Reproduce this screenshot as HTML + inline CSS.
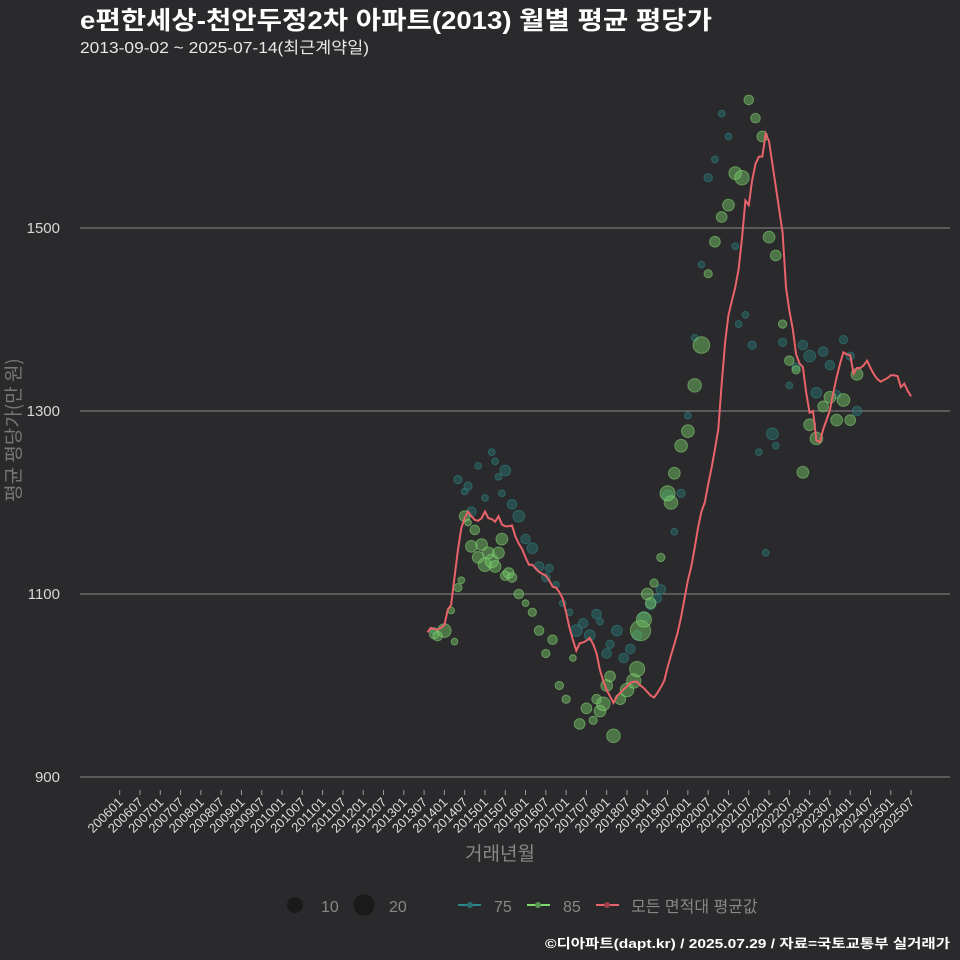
<!DOCTYPE html>
<html><head><meta charset="utf-8">
<style>
html,body{margin:0;padding:0;background:#2a292b;}
svg{display:block;font-family:"Liberation Sans","Noto Sans CJK KR",sans-serif;}
</style></head>
<body>
<svg id="chart" width="960" height="960" viewBox="0 0 960 960" xmlns="http://www.w3.org/2000/svg">
<rect width="960" height="960" fill="#2a292b"/>
<text x="80" y="29" font-size="25" font-weight="bold" fill="#ffffff" textLength="632" lengthAdjust="spacingAndGlyphs">e편한세상-천안두정2차 아파트(2013) 월별 평균 평당가</text>
<text x="80" y="53" font-size="16" fill="#e8e8e8" textLength="289" lengthAdjust="spacingAndGlyphs">2013-09-02 ~ 2025-07-14(최근계약일)</text>
<g id="grid"></g>
<g id="yticks"></g>
<g id="xticks"></g>
<text transform="translate(20,430) rotate(-90)" text-anchor="middle" font-size="19" fill="#777" style="font-family:'Noto Sans CJK KR',sans-serif">평균 평당가(만 원)</text>
<text x="500" y="860" text-anchor="middle" font-size="19" fill="#888">거래년월</text>
<g id="bubbles75"></g>
<g id="bubbles85"></g>
<path id="avgline" fill="none" stroke="#e8636a" stroke-width="2"/>
<g>
<circle cx="295" cy="905" r="8" fill="#1a1a1a"/>
<text x="321" y="912" font-size="16" fill="#888">10</text>
<circle cx="364" cy="905" r="10.5" fill="#1a1a1a"/>
<text x="389" y="912" font-size="16" fill="#888">20</text>
<line x1="458" y1="905" x2="481" y2="905" stroke="#2a8a8a" stroke-width="2"/>
<circle cx="470" cy="905" r="3" fill="#2a7070"/>
<text x="494" y="912" font-size="16" fill="#888">75</text>
<line x1="527" y1="905" x2="550" y2="905" stroke="#7ed86e" stroke-width="2"/>
<circle cx="538" cy="905" r="3" fill="#5a9a50"/>
<text x="563" y="912" font-size="16" fill="#888">85</text>
<line x1="596" y1="905" x2="619" y2="905" stroke="#e8636a" stroke-width="2"/>
<circle cx="607" cy="905" r="3" fill="#a04048"/>
<text x="631" y="912" font-size="16" fill="#888">모든 면적대 평균값</text>
</g>
<text x="950" y="948" text-anchor="end" font-size="13" font-weight="bold" fill="#ffffff" textLength="405" lengthAdjust="spacingAndGlyphs">©디아파트(dapt.kr) / 2025.07.29 / 자료=국토교통부 실거래가</text>
</svg>
<script>
const yTicks = [900, 1100, 1300, 1500];
const xTickLabels = [];
for (let y = 2006; y <= 2025; y++) { xTickLabels.push(y + "01"); xTickLabels.push(y + "07"); }
const avgStart = 91;
const avgValues = [1058,1063,1062,1061,1063,1066,1083,1088,1118,1148,1172,1183,1190,1185,1181,1180,1183,1190,1183,1182,1179,1185,1176,1174,1174,1175,1163,1155,1149,1140,1132,1132,1128,1124,1122,1120,1115,1108,1107,1102,1095,1080,1063,1050,1038,1046,1047,1049,1052,1045,1035,1017,1005,995,988,981,988,992,996,999,1003,1004,1004,1000,997,993,989,987,992,998,1005,1020,1033,1045,1058,1075,1095,1115,1130,1150,1172,1190,1200,1220,1238,1258,1280,1330,1375,1405,1420,1435,1455,1489,1530,1525,1552,1570,1578,1578,1603,1595,1570,1545,1520,1495,1435,1410,1390,1362,1352,1348,1320,1298,1300,1268,1266,1280,1290,1301,1320,1337,1352,1364,1362,1361,1341,1347,1347,1350,1355,1347,1340,1335,1332,1334,1336,1339,1339,1338,1326,1330,1322,1316];
const months75 = [93,100,102,103,104,106,108,110,111,112,113,114,116,118,120,122,124,126,127,129,131,133,135,137,139,141,142,144,145,147,149,151,153,155,157,159,160,162,164,166,168,170,172,174,176,178,180,182,183,185,187,189,191,193,194,196,198,200,202,204,206,208,210,212,214,216,218];
const values75 = [1060,1225,1212,1218,1190,1240,1205,1255,1245,1228,1210,1235,1198,1185,1160,1150,1130,1118,1128,1110,1090,1080,1060,1068,1055,1078,1070,1035,1045,1060,1030,1040,1055,1075,1088,1095,1105,1208,1168,1210,1295,1380,1460,1555,1575,1625,1600,1480,1395,1405,1372,1255,1145,1275,1262,1375,1328,1348,1372,1360,1320,1365,1350,1318,1378,1360,1300];
const counts75 = [2,3,2,3,4,2,2,2,2,2,2,5,4,6,4,5,4,3,3,2,2,2,6,4,5,4,2,4,3,5,4,4,4,5,4,3,4,5,2,3,2,2,2,3,2,2,2,2,2,2,3,2,2,6,2,3,2,3,4,6,5,4,4,3,3,3,4];
const months85 = [93,94,96,98,99,100,101,102,103,104,105,106,107,108,109,110,111,112,113,114,115,116,118,120,122,124,126,128,130,132,134,136,138,140,141,142,143,144,145,146,148,150,152,153,154,155,156,157,158,160,162,163,164,166,168,170,172,174,176,178,180,182,184,186,188,190,192,194,196,198,200,202,204,206,208,210,212,214,216,218];
const values85 = [1056,1054,1060,1082,1048,1107,1115,1185,1178,1152,1170,1140,1154,1132,1145,1136,1130,1145,1160,1120,1123,1118,1100,1090,1080,1060,1035,1050,1000,985,1030,958,975,962,985,972,980,1000,1010,945,985,995,1005,1018,1060,1072,1100,1090,1112,1140,1210,1200,1232,1262,1278,1328,1372,1450,1485,1512,1525,1560,1555,1640,1620,1600,1490,1470,1395,1355,1345,1233,1285,1270,1305,1315,1290,1312,1290,1340,1320,1340,1290,1350,1325,1350,1340,1295,1352];
const counts85 = [4,4,8,2,2,3,2,5,2,6,4,6,6,8,6,8,6,6,6,4,5,4,4,2,3,4,3,4,3,3,2,5,5,3,4,6,8,6,5,8,5,8,9,10,18,10,6,5,3,3,10,8,6,7,7,8,12,3,5,5,6,7,9,4,4,5,6,5,3,4,3,6,6,7,5,6,6,7,5,6,6,5,6,6,5,6,6,5,6];

const NS = "http://www.w3.org/2000/svg";
const X0 = 119.7, DX = 3.382, Y0 = 777, SY = 0.915;
function xScale(m) { return X0 + m * DX; }
function yScale(v) { return Y0 - (v - 900) * SY; }
function mk(tag, attrs, parent) { const e = document.createElementNS(NS, tag); for (const k in attrs) e.setAttribute(k, attrs[k]); parent.appendChild(e); return e; }

const grid = document.getElementById("grid");
const yg = document.getElementById("yticks");
yTicks.forEach(v => {
  const l = mk("line", {x1: 80, x2: 950, y1: yScale(v), y2: yScale(v), stroke: "#8a8a8a", "stroke-width": 1}, grid);
  
  
  const t = mk("text", {x: 60, y: yScale(v) + 5, "text-anchor": "end", "font-size": 15, fill: "#d8d8d8"}, yg);
  
  
  t.textContent = v;
});
const xg = document.getElementById("xticks");
xTickLabels.forEach((lab, i) => {
  const x = xScale(i * 6);
  const tk = mk("line", {x1: x, x2: x, y1: 790, y2: 795, stroke: "#999", "stroke-width": 1}, xg);
  
  
  const t = mk("text", {transform: `translate(${x + 4},${803}) rotate(-45)`, "text-anchor": "end", "font-size": 13, fill: "#dddddd"}, xg);
  
  
  t.textContent = lab;
});
function drawBubbles(gid, months, values, counts, fill, stroke, name) {
  const g = document.getElementById(gid);
  months.forEach((m, i) => {
    const c = mk("circle", {cx: xScale(m), cy: yScale(values[i]), r: 2.4 * Math.sqrt(counts[i]), fill: fill, "fill-opacity": 0.5, stroke: stroke, "stroke-opacity": 0.5, "stroke-width": 1}, g);
    
    
  });
}
drawBubbles("bubbles75", months75, values75, counts75, "#27706f", "#2f8c8e", "series-75");
drawBubbles("bubbles85", months85, values85, counts85, "#6fbf62", "#8fe07f", "series-85");
document.getElementById("avgline").setAttribute("d", avgValues.map((v, i) => (i ? "L" : "M") + xScale(avgStart + i).toFixed(1) + "," + yScale(v).toFixed(1)).join(" "));
</script>
</body></html>
